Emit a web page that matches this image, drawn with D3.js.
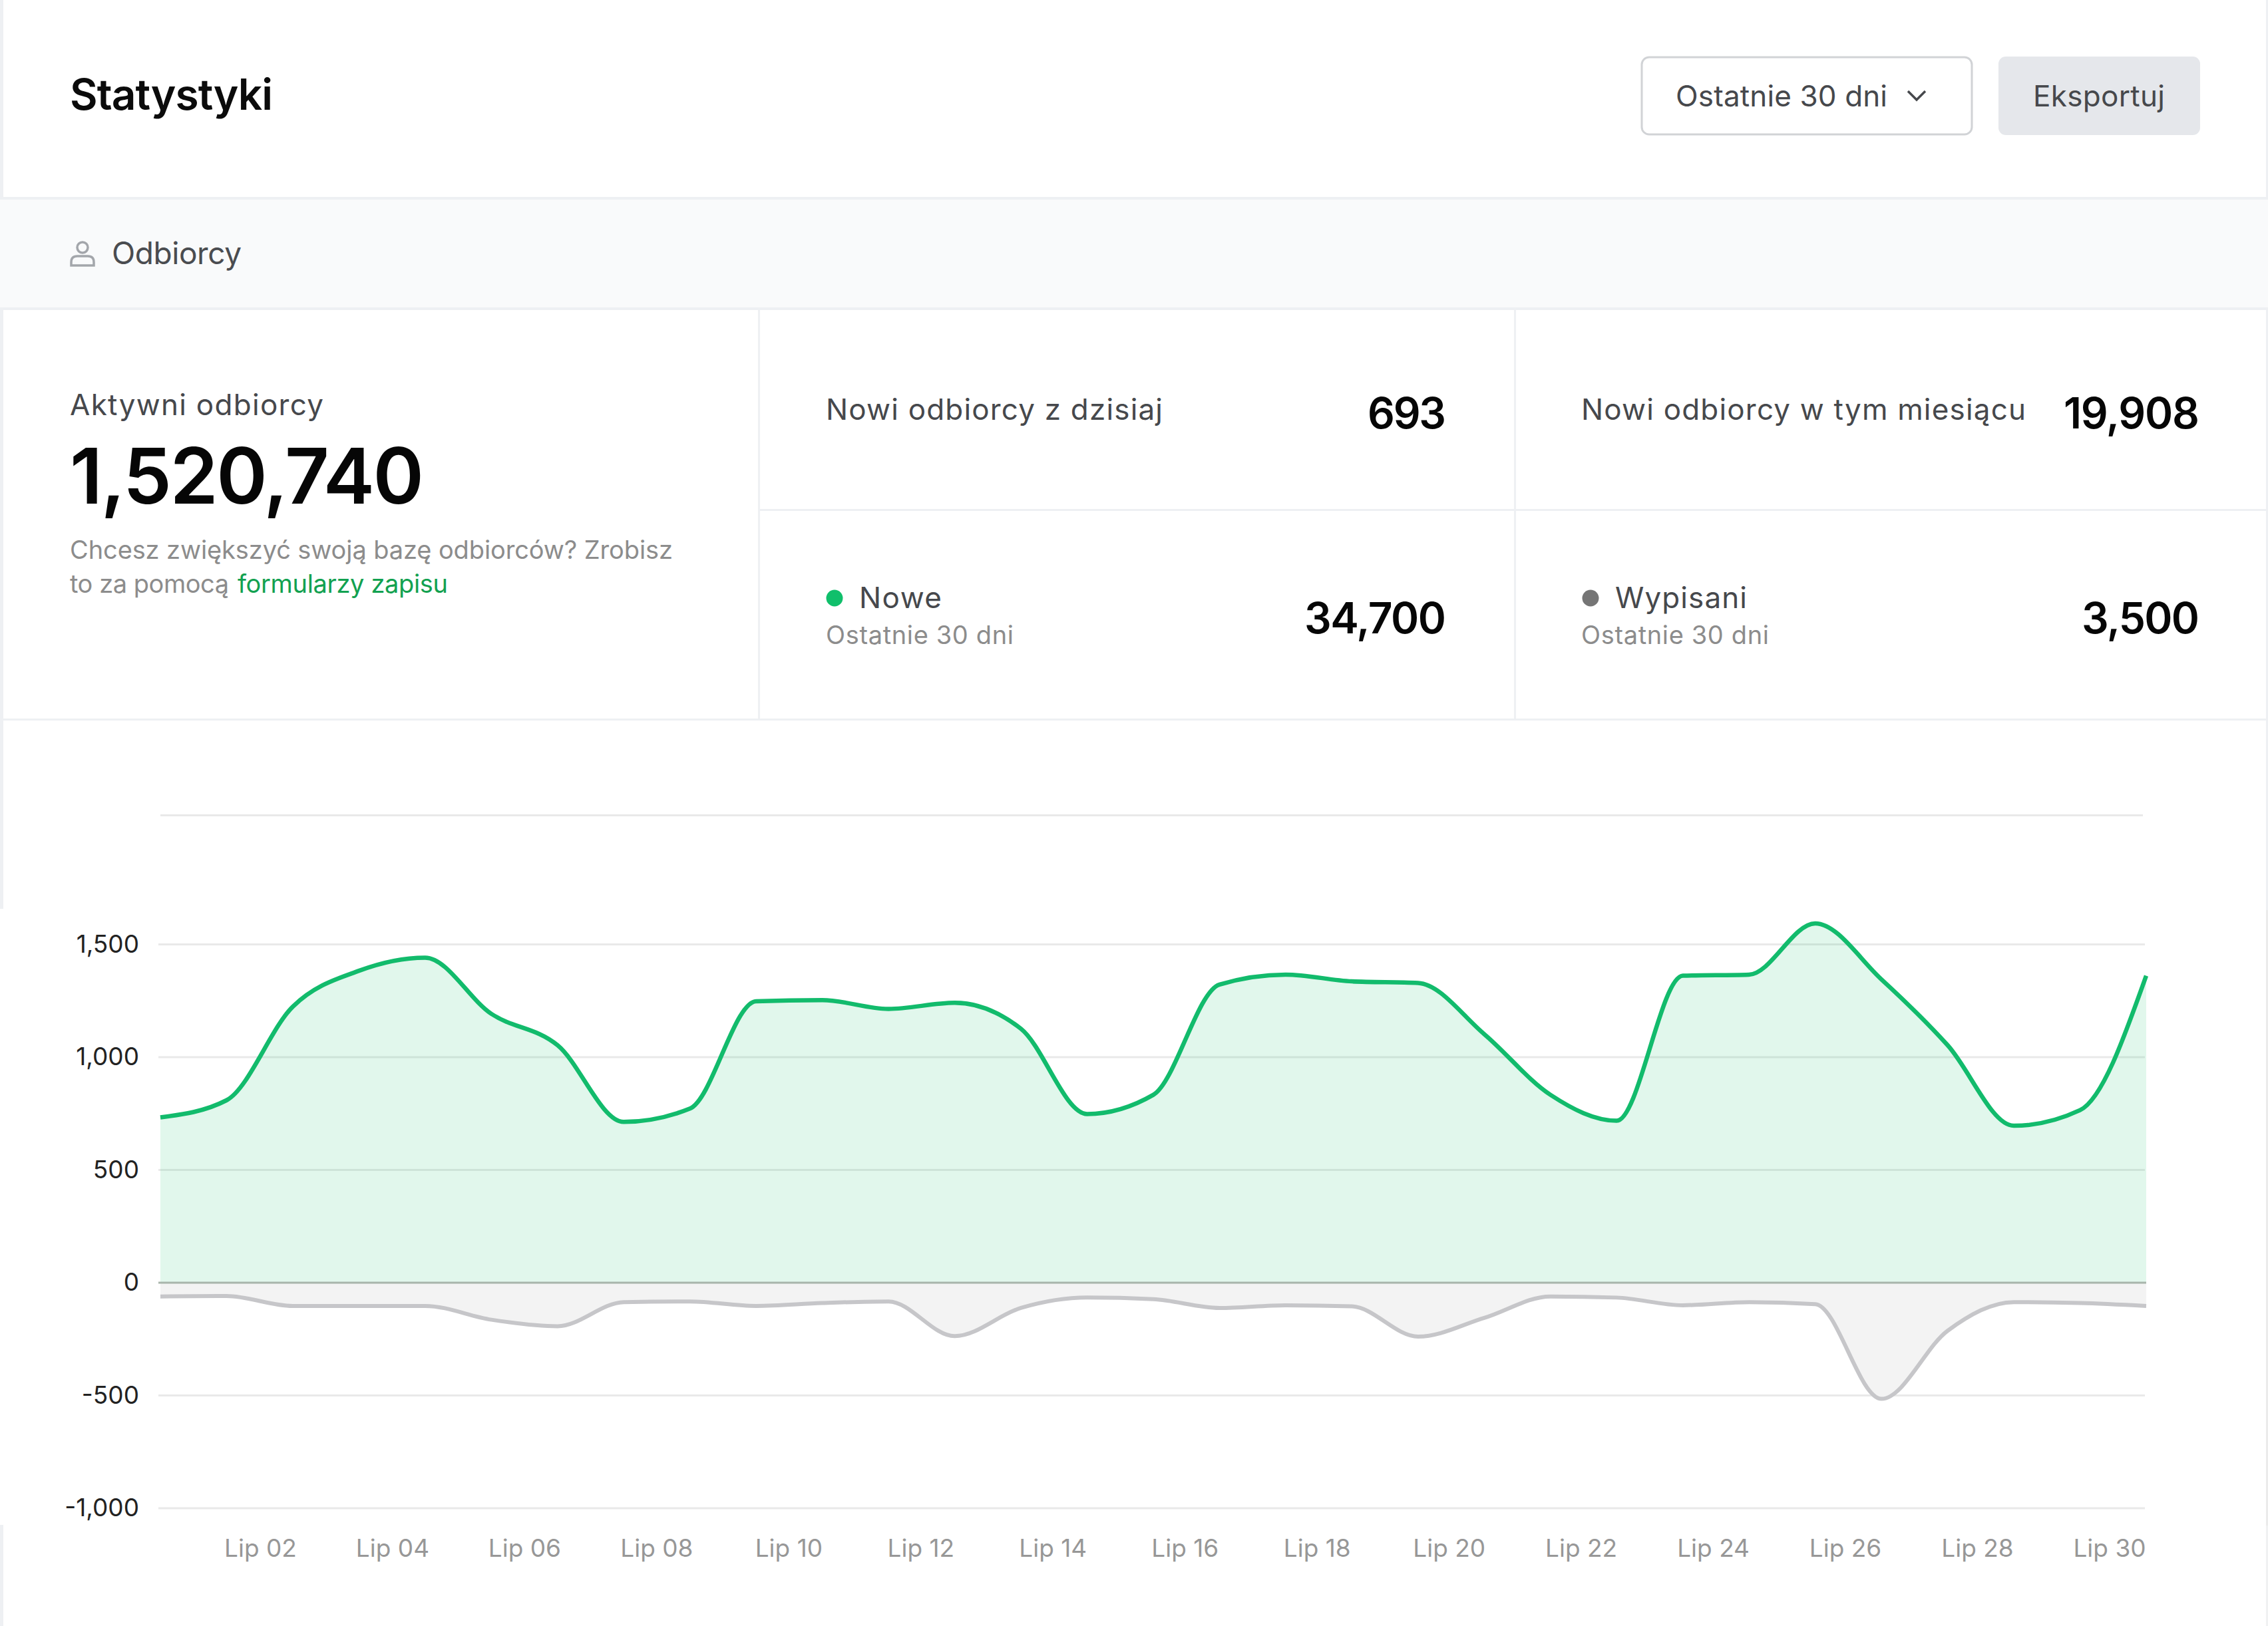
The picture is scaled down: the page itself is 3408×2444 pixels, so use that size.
<!DOCTYPE html>
<html>
<head>
<meta charset="utf-8">
<script src="https://cdn.jsdelivr.net/npm/d3@7"></script>
<style>
  html, body { margin: 0; padding: 0; background: #fff; }
  svg { display: block; font-family: Inter, "Noto Sans", sans-serif; }
  .axis .domain { display: none; }
  .axis line { stroke: none; }
</style>
</head>
<body>
<svg width="3408" height="2444"></svg>
<script>
var days = d3.range(0, 31);
var nowe = [733, 809, 1224, 1383, 1441, 1192, 1053, 713, 772, 1248, 1253, 1214, 1241, 1126, 748, 833,
            1322, 1366, 1336, 1329, 1102, 833, 718, 1361, 1366, 1593, 1345, 1053, 696, 765, 1361];
var wypisani = [-61, -59, -103, -103, -103, -164, -193, -86, -83, -103, -90, -83, -237, -112, -66, -73,
                -112, -100, -105, -239, -156, -61, -66, -100, -86, -95, -515, -213, -86, -90, -103];
var yTicks = [-1000, -500, 0, 500, 1000, 1500];
var topRule = 2072;
var xTicks = d3.range(2, 31, 2);

var svg = d3.select("svg");

function rect(x, y, w, h, fill, rx) {
  return svg.append("rect").attr("x", x).attr("y", y).attr("width", w).attr("height", h)
    .attr("fill", fill).attr("rx", rx || 0);
}

function label(x, y, str, size, weight, fill, width, anchor) {
  var t = svg.append("text").attr("x", x).attr("y", y).text(str)
    .attr("font-size", size).attr("font-weight", weight).attr("fill", fill)
    .attr("text-anchor", anchor || "start");
  if (width) t.attr("textLength", width).attr("lengthAdjust", "spacing");
  return t;
}

var line = "#eef0f3";
rect(0, 0, 5, 1366, line);
rect(0, 2292, 5, 152, line);
rect(3405, 0, 3, 1368, line);
rect(3405, 1368, 3, 925, "#ebebeb");
rect(3405, 2293, 3, 151, "#f0f1f2");

// header
label(105, 165, "Statystyki", 64, 600, "#0b0b0b", 305);
rect(2467, 86, 496, 116, "#fff", 11).attr("stroke", "#d1d3d6").attr("stroke-width", 3);
label(2518, 160, "Ostatnie 30 dni", 44, 400, "#46484c", 318);
svg.append("path").attr("d", "M2867 137L2880 150L2893 137").attr("fill", "none")
  .attr("stroke", "#46484c").attr("stroke-width", 3.5);
rect(3003, 85, 303, 118, "#e5e7eb", 11);
label(3055, 160, "Eksportuj", 44, 400, "#46484c", 198);

// section band
rect(0, 298, 3408, 165, "#f9fafb");
rect(0, 296, 3408, 4, line);
rect(0, 462, 3408, 4, line);
rect(1139, 464, 3, 617, line);
rect(2275, 464, 3, 617, line);
rect(1140, 765, 2268, 3, line);
rect(0, 1080, 3408, 3, line);

svg.append("circle").attr("cx", 124).attr("cy", 372).attr("r", 8)
  .attr("fill", "none").attr("stroke", "#a3a6ab").attr("stroke-width", 3.5);
svg.append("path").attr("d", "M107 399V394Q107 385 116 385H132Q141 385 141 394V399Z")
  .attr("fill", "none").attr("stroke", "#a3a6ab").attr("stroke-width", 3.5);
label(168, 397, "Odbiorcy", 46, 400, "#4a4c50", 195);

// stats
label(105, 624, "Aktywni odbiorcy", 44, 400, "#46484c", 381);
label(105, 757, "1,520,740", 116, 600, "#060606", 532);
label(105, 840, "Chcesz zwiększyć swoją bazę odbiorców? Zrobisz", 38, 400, "#8c8c8c", 906);
label(105, 891, "to za pomocą", 38, 400, "#8c8c8c", 239);
label(357, 891, "formularzy zapisu", 38, 400, "#12a150", 316);

label(1241, 631, "Nowi odbiorcy z dzisiaj", 44, 400, "#46484c", 506);
label(2173, 644, "693", 64, 600, "#060606", 118, "end");
label(2376, 631, "Nowi odbiorcy w tym miesiącu", 44, 400, "#46484c", 668);
label(3305, 644, "19,908", 64, 600, "#060606", 204, "end");

svg.append("circle").attr("cx", 1254).attr("cy", 899).attr("r", 12.5).attr("fill", "#10bf6b");
label(1291, 914, "Nowe", 44, 400, "#46484c", 124);
label(1241, 968, "Ostatnie 30 dni", 38, 400, "#8c8c8c", 282);
label(2173, 952, "34,700", 64, 600, "#060606", 213, "end");

svg.append("circle").attr("cx", 2390).attr("cy", 899).attr("r", 12.5).attr("fill", "#757575");
label(2427, 914, "Wypisani", 44, 400, "#46484c", 198);
label(2376, 968, "Ostatnie 30 dni", 38, 400, "#8c8c8c", 282);
label(3305, 952, "3,500", 64, 600, "#060606", 177, "end");

// chart
var x = d3.scaleLinear().domain([0, 30]).range([241, 3225]);
var y = d3.scaleLinear().domain([-1000, 1500]).range([2267, 1419.5]);
// the month labels sit a little left of their points
var xLabel = d3.scaleLinear().domain([2, 30]).range([391, 3169.5]);

svg.append("g").selectAll("line")
  .data(yTicks.filter(function(d) { return d !== 0; }))
  .enter().append("line")
  .attr("x1", 238).attr("x2", 3223)
  .attr("y1", function(d) { return y(d); }).attr("y2", function(d) { return y(d); })
  .attr("stroke", "#e9e9e9").attr("stroke-width", 3);
svg.append("line").attr("x1", 241).attr("x2", 3220)
  .attr("y1", y(topRule)).attr("y2", y(topRule))
  .attr("stroke", "#e9e9e9").attr("stroke-width", 3);

var areaUp = d3.area().curve(d3.curveMonotoneX)
  .x(function(d) { return x(d); })
  .y0(y(0))
  .y1(function(d) { return y(nowe[d]); });
var areaDown = d3.area().curve(d3.curveMonotoneX)
  .x(function(d) { return x(d); })
  .y0(y(0))
  .y1(function(d) { return y(wypisani[d]); });

svg.append("path").datum(days).attr("d", areaDown).attr("fill", "#f3f3f3");
svg.append("path").datum(days).attr("d", areaUp).attr("fill", "#10bf6b").attr("fill-opacity", 0.125);

svg.append("line").attr("x1", 238).attr("x2", 3225)
  .attr("y1", y(0)).attr("y2", y(0))
  .attr("stroke", "#a8b5ab").attr("stroke-width", 3);

svg.append("path").datum(days)
  .attr("d", d3.line().curve(d3.curveMonotoneX).x(function(d) { return x(d); }).y(function(d) { return y(wypisani[d]); }))
  .attr("fill", "none").attr("stroke", "#c6c6c9").attr("stroke-width", 6);
svg.append("path").datum(days)
  .attr("d", d3.line().curve(d3.curveMonotoneX).x(function(d) { return x(d); }).y(function(d) { return y(nowe[d]); }))
  .attr("fill", "none").attr("stroke", "#12bb6c").attr("stroke-width", 6.5);

var yAxis = svg.append("g").attr("class", "axis")
  .attr("transform", "translate(221,0)")
  .call(d3.axisLeft(y).tickValues(yTicks)
    .tickFormat(function(d) { return d3.format(",")(d).replace("\u2212", "-"); }).tickSize(0).tickPadding(12));
yAxis.selectAll("text").attr("font-size", 37).attr("fill", "#222").attr("font-family", "Inter");

var xAxis = svg.append("g").attr("class", "axis")
  .attr("transform", "translate(0,2340)")
  .call(d3.axisBottom(xLabel).tickValues(xTicks)
    .tickFormat(function(d) { return "Lip " + (d < 10 ? "0" : "") + d; }).tickSize(0).tickPadding(0));
xAxis.selectAll("text").attr("font-size", 37).attr("fill", "#979797")
  .attr("font-family", "Inter").attr("text-anchor", "middle").attr("dy", 0);
</script>
</body>
</html>
